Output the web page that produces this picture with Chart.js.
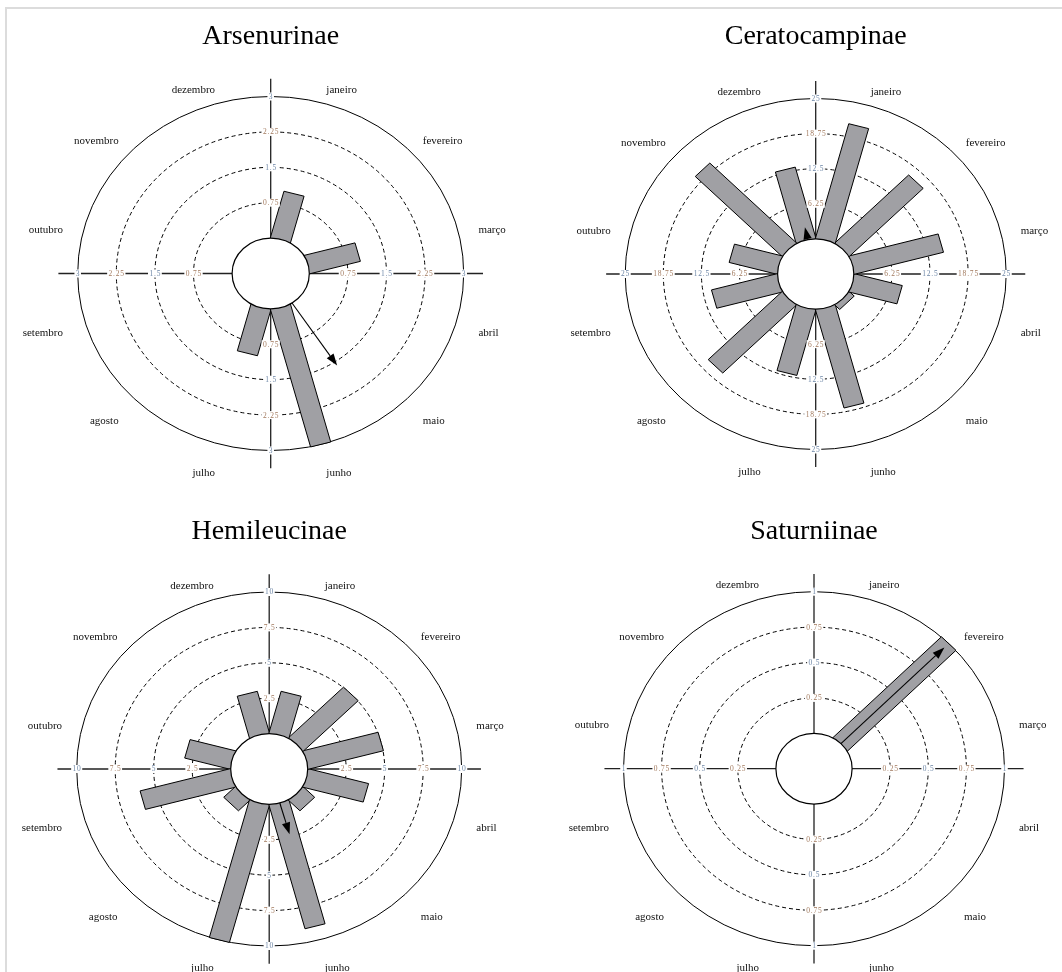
<!DOCTYPE html>
<html>
<head>
<meta charset="utf-8">
<script src="https://cdn.jsdelivr.net/npm/chart.js@4.4.1/dist/chart.umd.min.js"></script>
<style>
  html, body { margin: 0; padding: 0; background: #fff; }
  body { width: 1062px; height: 972px; position: relative; overflow: hidden; }
  #frame { position: absolute; left: 5px; top: 7px; width: 1100px; height: 1000px;
           border-top: 2px solid #dcdcdc; border-left: 2px solid #dcdcdc; }
  .panel { position: absolute; width: 531px; height: 486px; }
  .panel canvas { display: block; }
</style>
</head>
<body>
<div id="frame"></div>
<div class="panel" style="left:0;top:0"><canvas id="rose0" width="531" height="486"></canvas></div>
<div class="panel" style="left:531px;top:0"><canvas id="rose1" width="531" height="486"></canvas></div>
<div class="panel" style="left:0;top:486px"><canvas id="rose2" width="531" height="486"></canvas></div>
<div class="panel" style="left:531px;top:486px"><canvas id="rose3" width="531" height="486"></canvas></div>

<script>
// Months, clockwise from the top (janeiro just right of north)
const months = ['janeiro', 'fevereiro', 'março', 'abril', 'maio', 'junho',
                'julho', 'agosto', 'setembro', 'outubro', 'novembro', 'dezembro'];

// Monthly counts per subfamily
const arsenurinae    = [1, 0, 1, 0, 0, 3, 1, 0, 0, 0, 0, 0];
const ceratocampinae = [21, 17, 15, 8, 1, 18, 12, 17, 11, 8, 20, 13];
const hemileucinae   = [3, 5, 5, 4, 1, 9, 10, 1, 6, 3, 0, 3];
const saturniinae    = [0, 1, 0, 0, 0, 0, 0, 0, 0, 0, 0, 0];

// Ring labels of each rose (last one is the outer ring)
const ticksArsenurinae    = ['0.75', '1.5', '2.25', '3'];
const ticksCeratocampinae = ['6.25', '12.5', '18.75', '25'];
const ticksHemileucinae   = ['2.5', '5', '7.5', '10'];
const ticksSaturniinae    = ['0.25', '0.5', '0.75', '1'];

// Mean vector of each rose: direction (degrees, clockwise from north) and length r (0..1)
const meanDirection = [146.5, 348, 164, 45];
const meanLength    = [0.53, 0.09, 0.23, 0.96];

const titles = ['Arsenurinae', 'Ceratocampinae', 'Hemileucinae', 'Saturniinae'];

// ---- drawing setup ----
const SERIF = '"Liberation Serif", "Times New Roman", serif';
const HOLE = 0.25;        // empty centre, as a fraction of the outer ring value
const AXIS_EXT = 1.1;     // axis lines run past the outer ring
const BAR_HALF = 0.054;   // half bar width, fraction of outer radius
const BAR_FILL = '#a0a0a4';

// Centre and radii (pixels) of each rose inside its panel
const layouts = [
  { cx: 270.7, cy: 273.5, rx: 193,   ry: 177 },
  { cx: 284.7, cy: 274.0, rx: 190.5, ry: 175.5 },
  { cx: 269.2, cy: 283.0, rx: 192.5, ry: 177 },
  { cx: 283.0, cy: 282.7, rx: 190.5, ry: 177 }
];

const seriesList = [arsenurinae, ceratocampinae, hemileucinae, saturniinae];
const tickList = [ticksArsenurinae, ticksCeratocampinae, ticksHemileucinae, ticksSaturniinae];

const rad = d => d * Math.PI / 180;

function barPolygon(angleDeg, reach, halfW) {
  const a = rad(angleDeg);
  const ux = Math.sin(a), uy = Math.cos(a);
  const nx = Math.cos(a), ny = -Math.sin(a);
  return [
    { x: -halfW * nx,             y: -halfW * ny },
    { x: reach * ux - halfW * nx, y: reach * uy - halfW * ny },
    { x: reach * ux + halfW * nx, y: reach * uy + halfW * ny },
    { x: halfW * nx,              y: halfW * ny },
    { x: -halfW * nx,             y: -halfW * ny }
  ];
}

const rosePlugin = {
  id: 'roseFrame',
  beforeDatasetsDraw(chart) {
    const o = chart.options.plugins.roseFrame;
    const { ctx } = chart;
    const xs = chart.scales.x, ys = chart.scales.y;
    const cx = xs.getPixelForValue(0), cy = ys.getPixelForValue(0);
    const radii = r => [xs.getPixelForValue(r) - cx, cy - ys.getPixelForValue(r)];
    ctx.save();
    ctx.strokeStyle = '#000';
    ctx.lineWidth = 1;
    // dashed inner rings
    ctx.setLineDash([4, 3]);
    o.ticks.slice(0, -1).forEach(t => {
      const [rx, ry] = radii(o.hole + parseFloat(t));
      ctx.beginPath();
      ctx.ellipse(cx, cy, rx, ry, 0, 0, Math.PI * 2);
      ctx.stroke();
    });
    ctx.setLineDash([]);
    // outer ring
    const [orx, ory] = radii(o.outer);
    ctx.beginPath();
    ctx.ellipse(cx, cy, orx, ory, 0, 0, Math.PI * 2);
    ctx.stroke();
    // axis cross
    const [ax, ay] = radii(o.outer * AXIS_EXT);
    ctx.strokeStyle = '#222';
    ctx.lineWidth = 1.3;
    ctx.beginPath();
    ctx.moveTo(cx - ax, cy); ctx.lineTo(cx + ax, cy);
    ctx.moveTo(cx, cy - ay); ctx.lineTo(cx, cy + ay);
    ctx.stroke();
    ctx.restore();
  },
  afterDatasetsDraw(chart) {
    const o = chart.options.plugins.roseFrame;
    const { ctx } = chart;
    const xs = chart.scales.x, ys = chart.scales.y;
    const cx = xs.getPixelForValue(0), cy = ys.getPixelForValue(0);
    const radii = r => [xs.getPixelForValue(r) - cx, cy - ys.getPixelForValue(r)];
    ctx.save();
    // empty centre
    const [hx, hy] = radii(o.hole);
    ctx.beginPath();
    ctx.ellipse(cx, cy, hx, hy, 0, 0, Math.PI * 2);
    ctx.fillStyle = '#fff';
    ctx.fill();
    ctx.strokeStyle = '#000';
    ctx.lineWidth = 1.2;
    ctx.stroke();

    // ring values along the four axes
    ctx.font = '7.5px ' + SERIF;
    ctx.letterSpacing = '0.8px';
    ctx.textAlign = 'center';
    ctx.textBaseline = 'middle';
    o.ticks.forEach((t, i) => {
      const [rx, ry] = radii(o.hole + parseFloat(t));
      const w = ctx.measureText(t).width + 2;
      [[cx - rx, cy], [cx + rx, cy], [cx, cy - ry], [cx, cy + ry]].forEach(([x, y]) => {
        ctx.fillStyle = '#fff';
        ctx.fillRect(x - w / 2, y - 4, w, 8);
        ctx.fillStyle = i % 2 === 0 ? '#a27a5e' : '#6d86a6';
        ctx.fillText(t, x + 0.4, y + 0.5);
      });
    });
    ctx.letterSpacing = '0px';

    // mean vector arrow
    const a = rad(o.meanDir);
    const p = r => [xs.getPixelForValue(r * Math.sin(a)), ys.getPixelForValue(r * Math.cos(a))];
    const [sx, sy] = p(o.hole);
    const [tx, ty] = p(o.hole + o.meanLen * o.max);
    const len = Math.hypot(tx - sx, ty - sy);
    const dx = (tx - sx) / len, dy = (ty - sy) / len;
    const headL = 12, headW = 4.2;
    const bx = tx - dx * headL, by = ty - dy * headL;
    ctx.strokeStyle = '#000';
    ctx.fillStyle = '#000';
    ctx.lineWidth = 1.1;
    ctx.beginPath();
    ctx.moveTo(sx, sy); ctx.lineTo(bx, by);
    ctx.stroke();
    ctx.beginPath();
    ctx.moveTo(tx, ty);
    ctx.lineTo(bx - dy * headW, by + dx * headW);
    ctx.lineTo(bx + dy * headW, by - dx * headW);
    ctx.closePath();
    ctx.fill();

    // month names around the rose
    const [orx, ory] = radii(o.outer);
    ctx.font = '11px ' + SERIF;
    ctx.fillStyle = '#111';
    ctx.textBaseline = 'middle';
    months.forEach((m, i) => {
      const ang = rad((i + 0.5) * 30);
      const s = Math.sin(ang);
      ctx.textAlign = s > 0 ? 'left' : 'right';
      ctx.fillText(m, cx + s * orx * 1.114, cy + 8 - Math.cos(ang) * ory * 1.119);
    });

    // title
    ctx.font = '28px ' + SERIF;
    ctx.fillStyle = '#000';
    ctx.textAlign = 'center';
    ctx.textBaseline = 'alphabetic';
    ctx.fillText(o.title, cx, cy - 230);
    ctx.restore();
  }
};

seriesList.forEach((counts, k) => {
  const ticks = tickList[k];
  const max = parseFloat(ticks[ticks.length - 1]);
  const hole = max * HOLE;
  const outer = hole + max;
  const ext = outer * AXIS_EXT;
  const g = layouts[k];
  const W = 531, H = 486;

  const datasets = [];
  counts.forEach((v, i) => {
    if (v <= 0) return;
    datasets.push({
      label: months[i],
      data: barPolygon((i + 0.5) * 30, hole + v, BAR_HALF * outer),
      showLine: true,
      fill: 'shape',
      backgroundColor: BAR_FILL,
      borderColor: '#000',
      borderWidth: 1,
      pointRadius: 0,
      tension: 0
    });
  });

  new Chart(document.getElementById('rose' + k), {
    type: 'scatter',
    data: { datasets },
    options: {
      responsive: false,
      animation: false,
      events: [],
      layout: {
        padding: {
          left: g.cx - g.rx * AXIS_EXT,
          right: W - (g.cx + g.rx * AXIS_EXT),
          top: g.cy - g.ry * AXIS_EXT,
          bottom: H - (g.cy + g.ry * AXIS_EXT)
        }
      },
      scales: {
        x: { type: 'linear', min: -ext, max: ext, display: false },
        y: { type: 'linear', min: -ext, max: ext, display: false }
      },
      plugins: {
        legend: { display: false },
        tooltip: { enabled: false },
        roseFrame: {
          ticks, max, hole, outer,
          meanDir: meanDirection[k],
          meanLen: meanLength[k],
          title: titles[k]
        }
      }
    },
    plugins: [rosePlugin]
  });
});
</script>
</body>
</html>
